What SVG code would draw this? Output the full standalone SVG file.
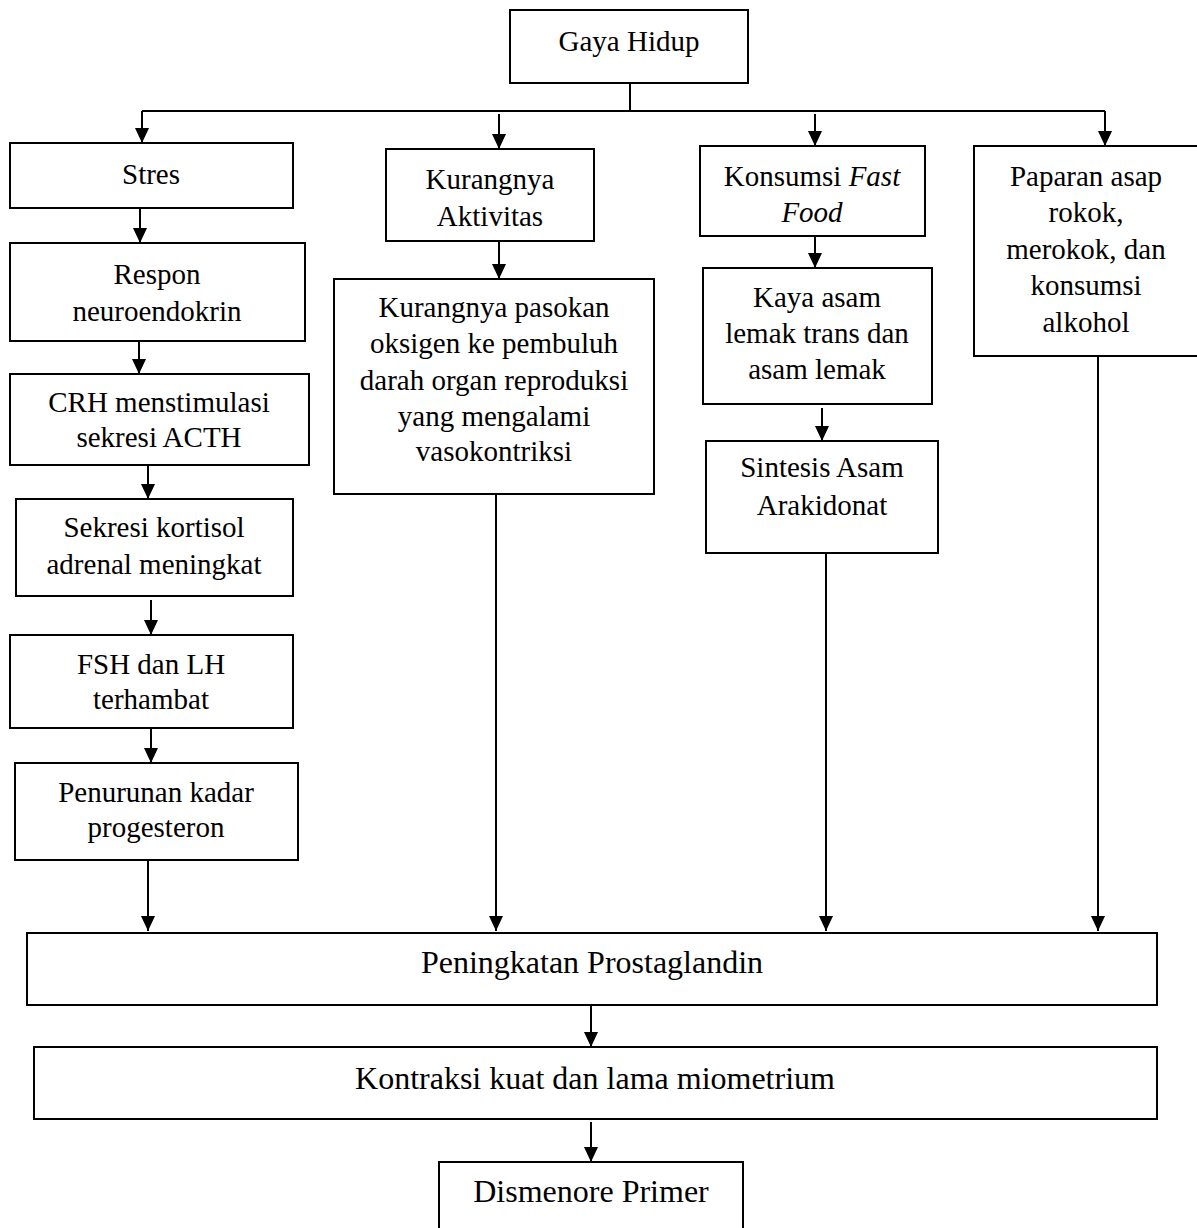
<svg xmlns="http://www.w3.org/2000/svg" width="1197" height="1228" viewBox="0 0 1197 1228">
<style>
.box{fill:#fff;stroke:#000;stroke-width:2}
.t{font-family:"Liberation Serif","Times New Roman",serif;font-size:29px;fill:#000;text-anchor:middle}
.b{font-size:32px}
.c{stroke:#000;stroke-width:2;fill:none}
</style>
<defs>
<marker id="ah" viewBox="0 0 15 14" refX="15" refY="7" markerWidth="15" markerHeight="14" markerUnits="userSpaceOnUse" orient="auto">
<path d="M0,0 L15,7 L0,14 z" fill="#000"/>
</marker>
</defs>
<rect width="1197" height="1228" fill="#fff"/>
<g id="connectors">
<line class="c" x1="630" y1="83" x2="630" y2="111"/>
<line class="c" x1="142" y1="111" x2="1105" y2="111"/>
<line class="c" x1="142" y1="111" x2="142" y2="143" marker-end="url(#ah)"/>
<line class="c" x1="499" y1="114" x2="499" y2="149" marker-end="url(#ah)"/>
<line class="c" x1="815" y1="114" x2="815" y2="146" marker-end="url(#ah)"/>
<line class="c" x1="1105" y1="111" x2="1105" y2="146" marker-end="url(#ah)"/>
<line class="c" x1="140" y1="208" x2="140" y2="243" marker-end="url(#ah)"/>
<line class="c" x1="139" y1="341" x2="139" y2="374" marker-end="url(#ah)"/>
<line class="c" x1="148" y1="465" x2="148" y2="499" marker-end="url(#ah)"/>
<line class="c" x1="151" y1="600" x2="151" y2="635" marker-end="url(#ah)"/>
<line class="c" x1="151" y1="728" x2="151" y2="763" marker-end="url(#ah)"/>
<line class="c" x1="148" y1="860" x2="148" y2="931" marker-end="url(#ah)"/>
<line class="c" x1="499" y1="241" x2="499" y2="279" marker-end="url(#ah)"/>
<line class="c" x1="496" y1="494" x2="496" y2="931" marker-end="url(#ah)"/>
<line class="c" x1="815" y1="236" x2="815" y2="268" marker-end="url(#ah)"/>
<line class="c" x1="822" y1="408" x2="822" y2="441" marker-end="url(#ah)"/>
<line class="c" x1="826" y1="553" x2="826" y2="931" marker-end="url(#ah)"/>
<line class="c" x1="1098" y1="356" x2="1098" y2="931" marker-end="url(#ah)"/>
<line class="c" x1="591" y1="1005" x2="591" y2="1047" marker-end="url(#ah)"/>
<line class="c" x1="591" y1="1122" x2="591" y2="1162" marker-end="url(#ah)"/>
</g>
<g id="gaya-hidup"><rect class="box" x="510" y="10" width="238" height="73"/><text class="t" x="629" y="51">Gaya Hidup</text></g>
<g id="stres"><rect class="box" x="10" y="143" width="283" height="65"/><text class="t" x="151" y="184">Stres</text></g>
<g id="respon"><rect class="box" x="10" y="243" width="295" height="98"/><text class="t" x="157" y="284">Respon</text><text class="t" x="157" y="321">neuroendokrin</text></g>
<g id="crh"><rect class="box" x="10" y="374" width="299" height="91"/><text class="t" x="159" y="412">CRH menstimulasi</text><text class="t" x="159" y="447">sekresi ACTH</text></g>
<g id="kortisol"><rect class="box" x="16" y="499" width="277" height="97"/><text class="t" x="154" y="537">Sekresi kortisol</text><text class="t" x="154" y="574">adrenal meningkat</text></g>
<g id="fsh-lh"><rect class="box" x="10" y="635" width="283" height="93"/><text class="t" x="151" y="674">FSH dan LH</text><text class="t" x="151" y="709">terhambat</text></g>
<g id="progesteron"><rect class="box" x="15" y="763" width="283" height="97"/><text class="t" x="156" y="802">Penurunan kadar</text><text class="t" x="156" y="837">progesteron</text></g>
<g id="kurang-aktivitas"><rect class="box" x="386" y="149" width="208" height="92"/><text class="t" x="490" y="189">Kurangnya</text><text class="t" x="490" y="226">Aktivitas</text></g>
<g id="kurang-oksigen"><rect class="box" x="334" y="279" width="320" height="215"/><text class="t" x="494" y="317">Kurangnya pasokan</text><text class="t" x="494" y="353">oksigen ke pembuluh</text><text class="t" x="494" y="390">darah organ reproduksi</text><text class="t" x="494" y="426">yang mengalami</text><text class="t" x="494" y="461">vasokontriksi</text></g>
<g id="fast-food"><rect class="box" x="700" y="146" width="225" height="90"/><text class="t" x="812" y="186">Konsumsi <tspan font-style="italic">Fast</tspan></text><text class="t" x="812" y="222" font-style="italic">Food</text></g>
<g id="asam-lemak"><rect class="box" x="703" y="268" width="229" height="136"/><text class="t" x="817" y="307">Kaya asam</text><text class="t" x="817" y="343">lemak trans dan</text><text class="t" x="817" y="379">asam lemak</text></g>
<g id="arakidonat"><rect class="box" x="706" y="441" width="232" height="112"/><text class="t" x="822" y="477">Sintesis Asam</text><text class="t" x="822" y="515">Arakidonat</text></g>
<g id="rokok"><rect class="box" x="974" y="146" width="225" height="210"/><text class="t" x="1086" y="186">Paparan asap</text><text class="t" x="1086" y="222">rokok,</text><text class="t" x="1086" y="259">merokok, dan</text><text class="t" x="1086" y="295">konsumsi</text><text class="t" x="1086" y="332">alkohol</text></g>
<g id="prostaglandin"><rect class="box" x="27" y="933" width="1130" height="72"/><text class="t b" x="592" y="973">Peningkatan Prostaglandin</text></g>
<g id="kontraksi"><rect class="box" x="34" y="1047" width="1123" height="72"/><text class="t b" x="595" y="1089">Kontraksi kuat dan lama miometrium</text></g>
<g id="dismenore"><rect class="box" x="439" y="1162" width="304" height="80"/><text class="t b" x="591" y="1202">Dismenore Primer</text></g>
</svg>
